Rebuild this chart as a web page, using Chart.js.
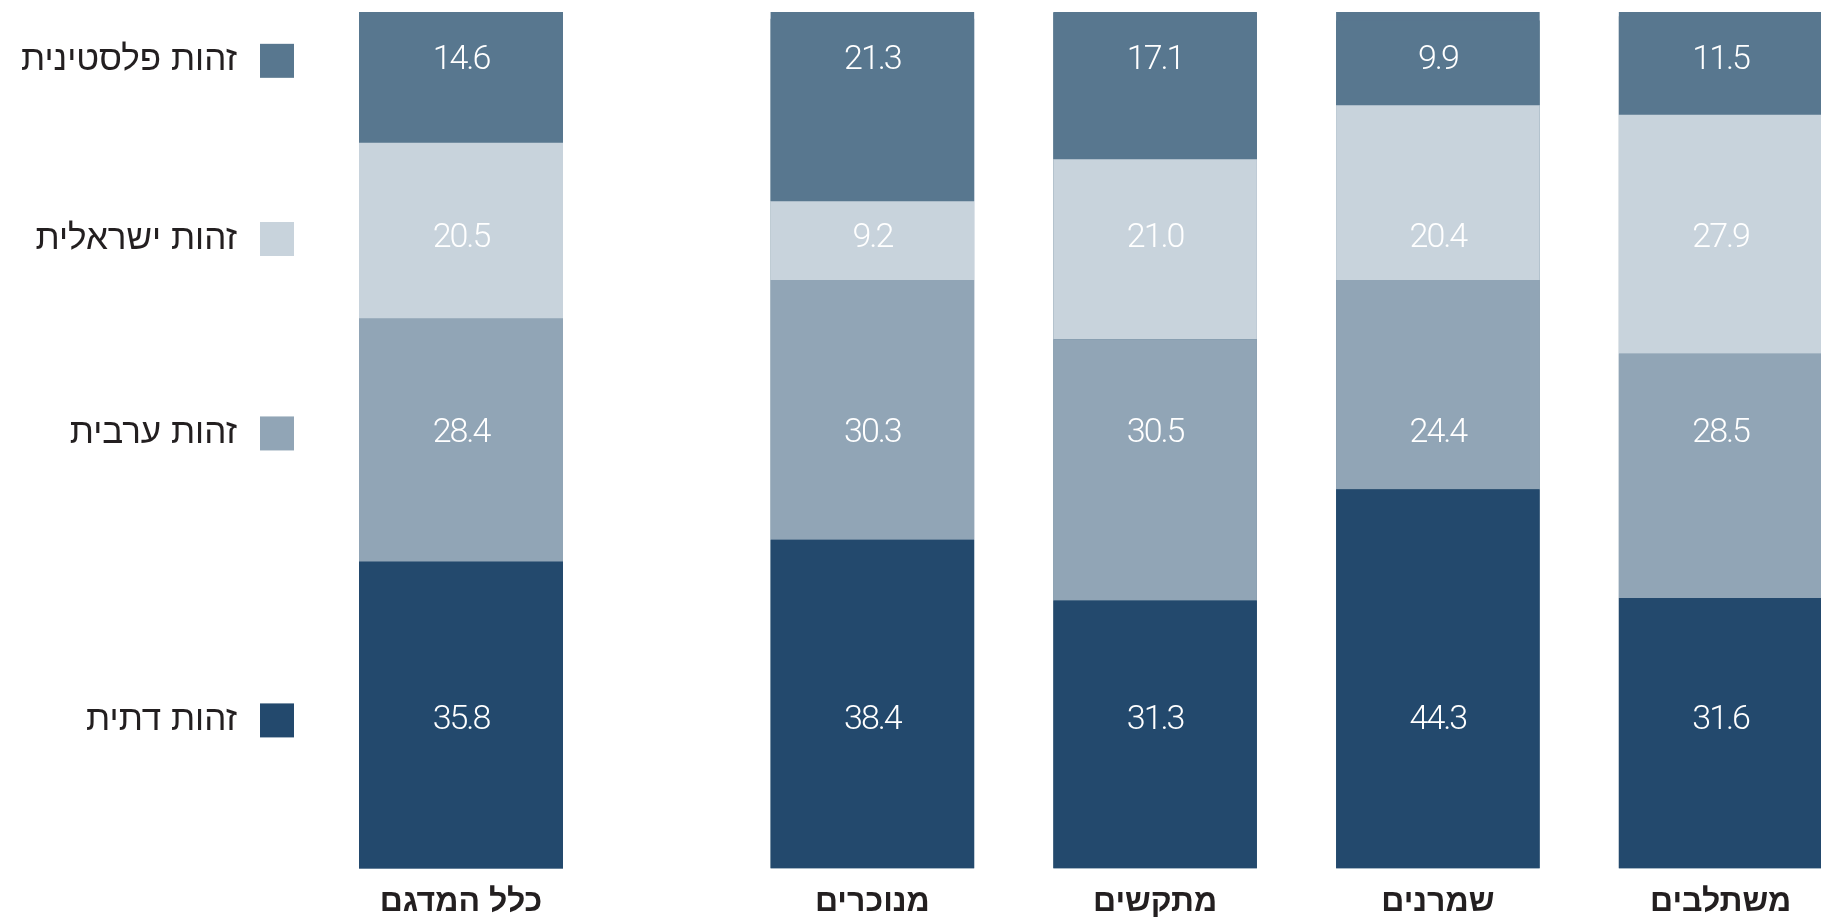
<!DOCTYPE html>
<html lang="he">
<head>
<meta charset="utf-8">
<title>זהות</title>
<script src="https://cdn.jsdelivr.net/npm/chart.js@4/dist/chart.umd.min.js"></script>
<style>
    html, body { margin: 0; padding: 0; background: #fff; }
    body { width: 1821px; height: 918px; overflow: hidden; position: relative; }
    #totalChart { position: absolute; left: 0; top: 0; }
    #groupsChart { position: absolute; left: 731px; top: 0; }
</style>
</head>
<body>
<canvas id="totalChart" width="731" height="935"></canvas>
<canvas id="groupsChart" width="1131" height="935"></canvas>
<script>
// Categories (first one is the whole sample, drawn apart)
const categories = ['כלל המדגם', 'מנוכרים', 'מתקשים', 'שמרנים', 'משתלבים'];

// Series names, bottom to top
const seriesNames = ['זהות דתית', 'זהות ערבית', 'זהות ישראלית', 'זהות פלסטינית'];

// Values (%) per category
const religious = [35.8, 38.4, 31.3, 44.3, 31.6];
const arab = [28.4, 30.3, 30.5, 24.4, 28.5];
const israeli = [20.5, 9.2, 21.0, 20.4, 27.9];
const palestinian = [14.6, 21.3, 17.1, 9.9, 11.5];

// Every bar fills the whole 100% column
const fullColumn = [100, 100, 100, 100, 100];

const seriesValues = [religious, arab, israeli, palestinian];
const seriesColors = ['#23496d', '#91a5b6', '#c8d3dc', '#58778f'];

// Rows (in % of the axis) where the numbers and the legend sit
const labelRows = [17.3, 50.8, 73.5, 94.3];

const textColor = '#231f20';
const numberFont = '300 34px Roboto';
const legendFont = '400 35px "Liberation Sans"';

function buildDatasets(from, to) {
    const datasets = seriesValues.map((values, i) => ({
        label: seriesNames[i],
        data: values.slice(from, to),
        backgroundColor: seriesColors[i],
        stack: 'main',
        order: 0
    }));
    // track behind the bars, in the colour of the top segment
    datasets.push({
        label: 'track',
        data: fullColumn.slice(from, to),
        backgroundColor: seriesColors[3],
        stack: 'track',
        order: 10
    });
    return datasets;
}

// Numbers inside the bars, on fixed rows
const valueLabels = {
    id: 'valueLabels',
    afterDatasetsDraw(chart) {
        const ctx = chart.ctx;
        const yScale = chart.scales.y;
        ctx.save();
        ctx.font = numberFont;
        ctx.letterSpacing = '-2px';
        ctx.fillStyle = '#ffffff';
        ctx.textAlign = 'center';
        ctx.textBaseline = 'middle';
        for (let i = 0; i < seriesNames.length; i++) {
            const meta = chart.getDatasetMeta(i);
            const y = yScale.getPixelForValue(labelRows[i]);
            meta.data.forEach((bar, j) => {
                const value = chart.data.datasets[i].data[j];
                ctx.fillText(value.toFixed(1), bar.x, y);
            });
        }
        ctx.restore();
    }
};

// Legend on the left of the first bar
const sideLegend = {
    id: 'sideLegend',
    afterDraw(chart) {
        const ctx = chart.ctx;
        const yScale = chart.scales.y;
        const boxSize = 34;
        const boxRight = chart.chartArea.left - 65;
        ctx.save();
        ctx.font = legendFont;
        ctx.textAlign = 'right';
        ctx.textBaseline = 'middle';
        for (let i = 0; i < seriesNames.length; i++) {
            const y = yScale.getPixelForValue(labelRows[i]);
            ctx.fillStyle = seriesColors[i];
            ctx.fillRect(boxRight - boxSize, y - boxSize / 2, boxSize, boxSize);
            ctx.fillStyle = textColor;
            ctx.fillText(seriesNames[i], boxRight - boxSize - 23, y);
        }
        ctx.restore();
    }
};

function buildOptions(padding, barPercentage) {
    return {
        responsive: false,
        animation: false,
        layout: { padding: padding },
        plugins: {
            legend: { display: false },
            tooltip: { enabled: false }
        },
        scales: {
            x: {
                stacked: true,
                grid: { display: false, drawTicks: false },
                border: { display: false },
                ticks: {
                    color: textColor,
                    padding: 14,
                    font: { family: 'Liberation Sans', weight: 'bold', size: 32, lineHeight: 1.2 }
                }
            },
            y: {
                stacked: true,
                display: false,
                min: 0,
                max: 100
            }
        },
        datasets: {
            bar: { grouped: false, barPercentage: barPercentage, categoryPercentage: 1 }
        }
    };
}

document.fonts.load(numberFont).finally(() => {
    // Whole sample
    new Chart(document.getElementById('totalChart'), {
        type: 'bar',
        data: { labels: categories.slice(0, 1), datasets: buildDatasets(0, 1) },
        options: buildOptions({ left: 359, right: 168, top: 12, bottom: 0 }, 1),
        plugins: [valueLabels, sideLegend]
    });

    // Four groups
    new Chart(document.getElementById('groupsChart'), {
        type: 'bar',
        data: { labels: categories.slice(1), datasets: buildDatasets(1, 5) },
        options: buildOptions({ left: 0, right: 0, top: 12, bottom: 0 }, 0.72),
        plugins: [valueLabels]
    });
});
</script>
</body>
</html>
